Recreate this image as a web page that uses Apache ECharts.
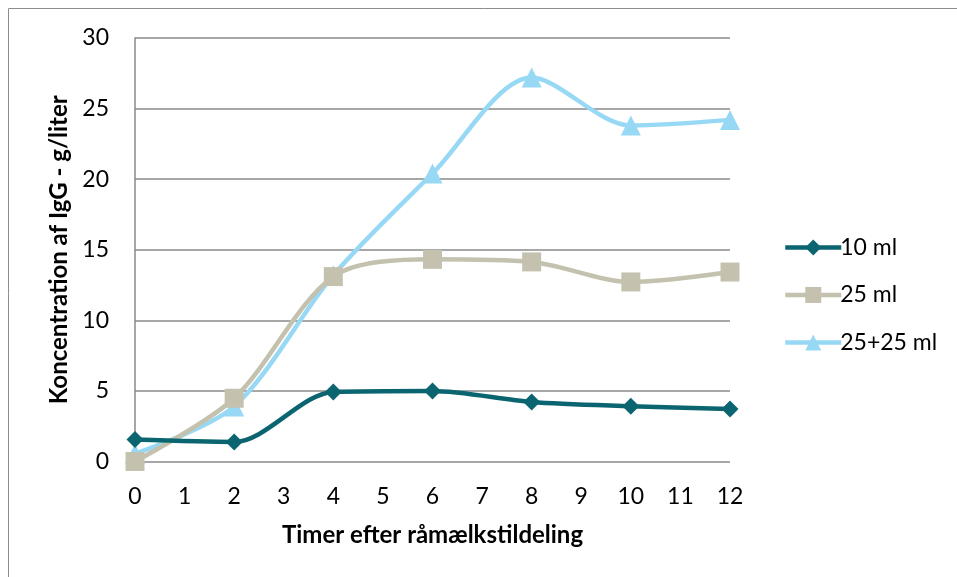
<!DOCTYPE html>
<html><head><meta charset="utf-8">
<script src="https://cdn.jsdelivr.net/npm/echarts@6/dist/echarts.min.js"></script>
<style>html,body{margin:0;padding:0;background:#fff}#c{width:957px;height:577px}</style>
</head><body><div id="c"></div>
<script>
const hours = [0, 2, 4, 6, 8, 10, 12];
const s10 = [1.55, 1.38, 4.93, 5.0, 4.22, 3.92, 3.72];
const s25 = [0.0, 4.48, 13.1, 14.32, 14.14, 12.72, 13.42];
const s2525 = [0.55, 3.9, 13.2, 20.4, 27.2, 23.8, 24.2];
const names = ['10 ml', '25 ml', '25+25 ml'];
const colors = ['#0B6570', '#C4C2AE', '#97D8F5'];
const symbols = ['diamond', 'rect', 'triangle'];
const sizes = [17, 19, 20];
const font = 'Lato, "Open Sans", sans-serif';
const pts = a => hours.map((h, i) => [h, a[i]]);
const chart = echarts.init(document.getElementById('c'));
chart.setOption({
  animation: false,
  graphic: [{type:'rect', shape:{x:8.5,y:8.5,width:960,height:580}, style:{fill:'none', stroke:'#8c8c8c', lineWidth:1}}],
  grid: {left: 135, right: 227, top: 38, bottom: 115.5},
  xAxis: {type:'value', min:0, max:12, interval:1,
    name:'Timer efter råmælkstildeling', nameLocation:'middle', nameGap:62,
    nameTextStyle:{fontFamily:font, fontSize:24, fontWeight:'bold', color:'#000'},
    axisLine:{show:false}, axisTick:{show:false}, splitLine:{show:false},
    axisLabel:{fontFamily:font, fontSize:23, color:'#000', margin:24}},
  yAxis: {type:'value', min:0, max:30, interval:5,
    name:'Koncentration af IgG - g/liter', nameLocation:'middle', nameGap:63,
    nameTextStyle:{fontFamily:font, fontSize:24, fontWeight:'bold', color:'#000'},
    axisLine:{show:true, lineStyle:{color:'#888', width:1.5}}, axisTick:{show:false},
    splitLine:{show:true, lineStyle:{color:'#8a8a8a', width:1.5}},
    axisLabel:{fontFamily:font, fontSize:23, color:'#000', margin:26}},
  legend: {orient:'vertical', left:778, top:231, itemGap:24.5, itemWidth:56, itemHeight:20,
    lineStyle:{width:4.5},
    textStyle:{fontFamily:font, fontSize:23, color:'#000', padding:[0,0,0,-6]},
    data: names},
  series: [s10, s25, s2525].map((d, i) => ({
    name: names[i], type:'line', smooth:0.3, data: pts(d),
    symbol: symbols[i], symbolSize: sizes[i],
    lineStyle:{color:colors[i], width:4.5}, itemStyle:{color:colors[i]},
    z: 3 - i
  }))
});
</script></body></html>
